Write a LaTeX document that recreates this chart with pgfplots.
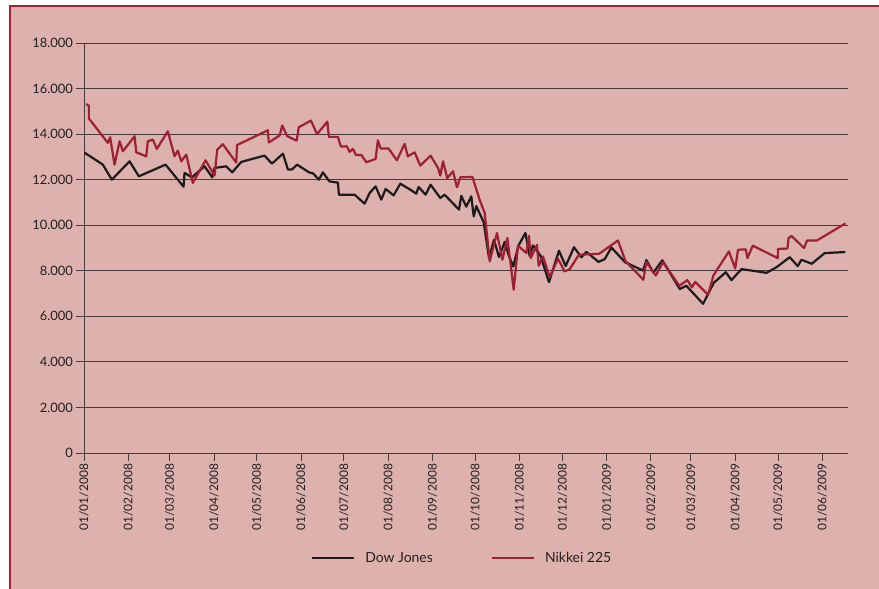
\documentclass[border=0pt]{standalone}
\usepackage{fontspec}
\setmainfont{Lato}
\usepackage{pgfplots}
\pgfplotsset{compat=1.18}
\definecolor{bgpink}{RGB}{221,178,174}
\definecolor{framered}{RGB}{168,35,50}
\definecolor{nikkeired}{RGB}{158,32,52}
\definecolor{dowblack}{RGB}{28,26,27}
\definecolor{gridcol}{RGB}{70,58,58}
\definecolor{textcol}{RGB}{35,31,32}
\begin{document}
\begin{tikzpicture}
\fill[white] (0bp,0bp) rectangle (879bp,589bp);
\fill[bgpink] (10bp,0bp) rectangle (879bp,583bp);
\draw[framered, line width=1.3bp] (10bp,0bp) -- (10bp,583bp) -- (879bp,583bp);
\begin{axis}[
  at={(84bp,136bp)}, anchor=origin,
  scale only axis, width=764bp, height=410bp,
  xmin=0, xmax=535, ymin=0, ymax=18000,
  axis x line*=bottom, axis y line*=left,
  axis line style={draw=gridcol, line width=0.9bp},
  tick style={draw=gridcol, line width=0.9bp},
  major tick length=7.5bp, tick align=outside,
  ymajorgrids, major grid style={draw=gridcol, line width=0.8bp},
  xtick={0,31,60,91,121,152,182,213,244,274,305,335,366,397,425,456,486,517},
  xticklabels={01/01/2008,01/02/2008,01/03/2008,01/04/2008,01/05/2008,01/06/2008,01/07/2008,01/08/2008,01/09/2008,01/10/2008,01/11/2008,01/12/2008,01/01/2009,01/02/2009,01/03/2009,01/04/2009,01/05/2009,01/06/2009},
  ytick={0,2000,...,18000},
  scaled y ticks=false,
  /pgf/number format/.cd, 1000 sep={.}, assume math mode=true, /pgfplots/.cd,
  yticklabel style={font=\fontsize{13}{15}\selectfont, text=textcol},
  xticklabel style={font=\fontsize{12}{14}\selectfont, text=textcol, rotate=90, anchor=east},
  legend style={at={(0.495,-0.256)}, anchor=center, draw=none, fill=none,
    font=\fontsize{14}{16}\selectfont, text=textcol,
    /tikz/every even column/.append style={column sep=56bp}},
  legend columns=2,
  legend image code/.code={\draw[#1] (0bp,0bp) -- (42bp,0bp);},
]
\addplot[dowblack, line width=2.2bp, line join=round] coordinates {
(0,13200) (13.2,12660) (19.5,12000) (31.9,12806) (38.4,12146) (57.1,12660)
(69.7,11690) (70.4,12294) (75.6,12100) (84.4,12587) (89.8,12103) (91.4,12514)
(99.6,12587) (103.8,12323) (110.1,12778) (126.4,13056) (131.6,12704) (139.3,13140)
(142.8,12450) (145.7,12450) (149.2,12660) (157.5,12323) (160.5,12270) (164.5,12000)
(167.3,12323) (171.8,11926) (177.8,11870) (178.5,11340) (189.5,11340) (196.5,10946)
(200,11415) (204.2,11707) (208.2,11122) (211.2,11591) (216.8,11312) (221.5,11825)
(229.2,11532) (232.7,11386) (234.3,11680) (239.2,11342) (242.7,11781) (249.5,11195)
(252.5,11342) (262.6,10683) (264.2,11290) (267.7,10815) (271.2,11268) (272.9,10388)
(274.7,10840) (279.9,10130) (283.6,8560) (287.1,9363) (290.6,8600) (294.6,9270)
(297.4,8680) (300.6,8190) (304.2,9100) (309.1,9658) (312.1,8645) (314.4,9110)
(319.6,8670) (325.6,7500) (332.6,8880) (337.3,8205) (343.1,9033) (348.3,8595)
(351.8,8830) (360.3,8390) (364.6,8510) (369.3,9020) (378.9,8375) (391.5,8010)
(393.8,8470) (398.7,7920) (405,8460) (417.2,7196) (421.8,7341) (433.5,6550)
(441,7470) (449.4,7935) (453.4,7590) (460.4,8075) (477.9,7910) (484.9,8155)
(494.2,8595) (499.8,8205) (502.4,8484) (509.6,8308) (518.7,8778) (533.2,8822)
};
\addlegendentry{\hspace{8bp}Dow Jones}
\addplot[nikkeired, line width=2.2bp, line join=round] coordinates {
(1.5,15320) (3.4,15250) (3.4,14690) (16.7,13615) (18.3,13862) (21.4,12660)
(24.9,13685) (27.2,13245) (35.4,13905) (36.6,13200) (43.6,13025) (44.7,13685)
(48.2,13760) (51,13350) (58.7,14125) (63.4,13025) (65.7,13276) (68.1,12806)
(71.6,13100) (76.2,11856) (85.1,12850) (91.4,12177) (93.3,13320) (97.2,13555)
(106.6,12750) (107.2,13520) (128.8,14170) (129.4,13630) (137,13940) (138.8,14380)
(142.2,13920) (148.9,13708) (150.4,14301) (158.9,14595) (163.2,14000) (170.4,14545)
(171.5,13878) (177.8,13878) (179.9,13452) (184,13465) (186,13223) (188.3,13350)
(190.4,13085) (194.2,13085) (197.7,12762) (204.2,12910) (205.8,13729) (207.7,13364)
(213.3,13364) (219.1,12850) (224.5,13570) (226.8,13025) (231.5,13201) (235.5,12617)
(242.7,13056) (247.9,12515) (249.5,12177) (251.4,12806) (254.4,12074) (258.4,12367)
(261.2,11663) (263.5,12103) (272,12120) (277,11122) (280.6,10537) (284.1,8411)
(289.2,9658) (293,8484) (296.5,9438) (300.9,7165) (303.9,9100) (309.8,8778)
(311.6,9539) (312.8,8558) (317.2,9143) (318.4,8220) (321.4,8630) (326.1,7724)
(331.9,8528) (336.6,7970) (340.1,8075) (346.6,8704) (360.8,8748) (373.9,9330)
(379.2,8420) (391.7,7605) (393.8,8380) (400.4,7790) (405.5,8380) (416.9,7341)
(422.5,7590) (425.7,7275) (428,7510) (437,6946) (440.8,7800) (451.6,8850)
(456,8100) (458,8924) (463.4,8940) (464.6,8558) (468.3,9100) (485.8,8558)
(486,8960) (492.6,8975) (493.4,9438) (495.5,9525) (504.2,8998) (506.3,9325)
(513.1,9325) (533.2,10080)
};
\addlegendentry{\hspace{8bp}Nikkei 225}
\end{axis}
\pgfresetboundingbox
\path[use as bounding box] (0bp,0bp) rectangle (879bp,589bp);
\end{tikzpicture}
\end{document}
